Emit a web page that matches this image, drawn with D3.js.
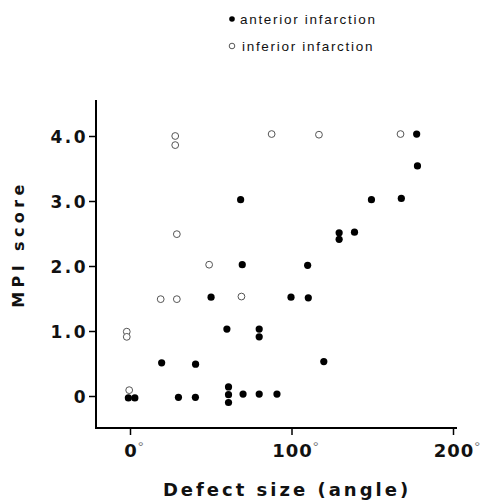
<!DOCTYPE html>
<html>
<head>
<meta charset="utf-8">
<script src="https://cdn.jsdelivr.net/npm/d3@7"></script>
<style>
  html, body { margin: 0; padding: 0; background: #fff; }
  svg { display: block; }
</style>
</head>
<body>
<div id="chart"></div>
<script>
// ---- Data ----
const anteriorX = [-1, 3, 30, 40.5, 61, 61, 61, 70, 80, 91, 19.6, 40.6, 60, 50.2, 69.5, 110, 99.7, 110.4, 80, 80, 120, 129.5, 129.5, 139, 68.5, 149.5, 168, 177.5, 178];
const anteriorY = [-0.03, -0.03, -0.02, -0.02, 0.14, 0.02, -0.1, 0.03, 0.03, 0.03, 0.51, 0.49, 1.03, 1.52, 2.02, 2.01, 1.52, 1.51, 1.03, 0.91, 0.53, 2.51, 2.41, 2.52, 3.02, 3.02, 3.04, 4.03, 3.54];
const inferiorX = [28, 28, 29, 87.7, 117, 167.5, 49, 19, 29, 69, -2, -2, -0.5];
const inferiorY = [4.0, 3.86, 2.49, 4.03, 4.02, 4.03, 2.02, 1.49, 1.49, 1.53, 0.99, 0.91, 0.09];
const xTicks = [0, 100, 200];
const yTicks = [0, 1, 2, 3, 4];
const yTickLabels = ["0", "1.0", "2.0", "3.0", "4.0"];
const legendLabels = ["anterior infarction", "inferior infarction"];
const xTitle = "Defect size (angle)";
const yTitle = "MPI score";

const W = 490, H = 500;
const svg = d3.select("#chart").append("svg").attr("width", W).attr("height", H);

const x = d3.scaleLinear().domain([0, 200]).range([130, 453]);
const y = d3.scaleLinear().domain([0, 4]).range([396, 136]);

const axisX0 = 96, axisY0 = 428;
const boldFont = "'DejaVu Sans', Verdana, sans-serif";

// Axes lines
svg.append("line").attr("x1", axisX0).attr("x2", axisX0).attr("y1", 100).attr("y2", axisY0 + 1)
  .attr("stroke", "#000").attr("stroke-width", 2);
svg.append("line").attr("x1", axisX0 - 1).attr("x2", 457).attr("y1", axisY0).attr("y2", axisY0)
  .attr("stroke", "#000").attr("stroke-width", 2);

// Y axis
const yAxis = d3.axisLeft(y).tickValues(yTicks).tickSize(7).tickPadding(3)
  .tickFormat((d, i) => yTickLabels[i]);
const gy = svg.append("g").attr("transform", `translate(${axisX0},0)`).call(yAxis);
gy.select(".domain").remove();
gy.selectAll(".tick line").attr("stroke", "#000").attr("stroke-width", 1.5);
gy.selectAll(".tick text")
  .attr("font-family", boldFont)
  .attr("font-size", 17).attr("font-weight", "bold").attr("fill", "#111")
  .style("letter-spacing", "2.5px").attr("dy", "0.4em").attr("x", -8);

// X axis
const xAxis = d3.axisBottom(x).tickValues(xTicks).tickSize(7).tickFormat(d => d);
const gx = svg.append("g").attr("transform", `translate(0,${axisY0})`).call(xAxis);
gx.select(".domain").remove();
gx.selectAll(".tick line").attr("stroke", "#000").attr("stroke-width", 1.5);
gx.selectAll(".tick text").each(function(d) {
  const t = d3.select(this);
  t.text(null)
    .attr("font-family", boldFont)
    .attr("font-size", 18).attr("font-weight", "bold").attr("fill", "#111")
    .attr("y", 29).attr("dy", 0)
    .attr("text-anchor", "middle")
    .style("letter-spacing", "1px");
  t.append("tspan").text(String(d));
  // small degree mark, hanging after the number
  t.append("tspan").text("°").attr("font-family", "'Liberation Sans', Arial, sans-serif")
    .attr("font-size", 15).attr("font-weight", "normal")
    .attr("fill", "#777").attr("dy", -5);
});
// shift labels so the number (not the degree mark) is centred on the tick
gx.selectAll(".tick text").attr("dx", 4);

// Axis titles
svg.append("text").attr("x", 287).attr("y", 496).attr("text-anchor", "middle")
  .attr("font-family", boldFont)
  .attr("font-size", 18).attr("font-weight", "bold").attr("fill", "#111")
  .style("letter-spacing", "3px").text(xTitle);
svg.append("text").attr("transform", "translate(24,244) rotate(-90)").attr("text-anchor", "middle")
  .attr("font-family", boldFont)
  .attr("font-size", 16).attr("font-weight", "bold").attr("fill", "#111")
  .style("letter-spacing", "4.4px").text(yTitle);

// Points
const anterior = anteriorX.map((v, i) => ({x: v, y: anteriorY[i]}));
const inferior = inferiorX.map((v, i) => ({x: v, y: inferiorY[i]}));

svg.append("g").selectAll("circle").data(inferior).join("circle")
  .attr("cx", d => x(d.x)).attr("cy", d => y(d.y)).attr("r", 3.4)
  .attr("fill", "#fff").attr("stroke", "#555").attr("stroke-width", 1);
svg.append("g").selectAll("circle").data(anterior).join("circle")
  .attr("cx", d => x(d.x)).attr("cy", d => y(d.y)).attr("r", 3.6)
  .attr("fill", "#000");

// Legend
const legend = svg.append("g");
legendLabels.forEach((lab, i) => {
  const ly = 19 + i * 27;
  if (i === 0) {
    legend.append("circle").attr("cx", 232).attr("cy", ly).attr("r", 2.8).attr("fill", "#000");
  } else {
    legend.append("circle").attr("cx", 232).attr("cy", ly).attr("r", 2.8)
      .attr("fill", "#fff").attr("stroke", "#444").attr("stroke-width", 0.9);
  }
  legend.append("text").attr("x", i === 0 ? 240 : 242).attr("y", ly + 5)
    .attr("font-family", "'Liberation Sans', Arial, sans-serif")
    .attr("font-size", 13.5).attr("fill", "#111")
    .style("letter-spacing", "1.7px").text(lab);
});
</script>
</body>
</html>
